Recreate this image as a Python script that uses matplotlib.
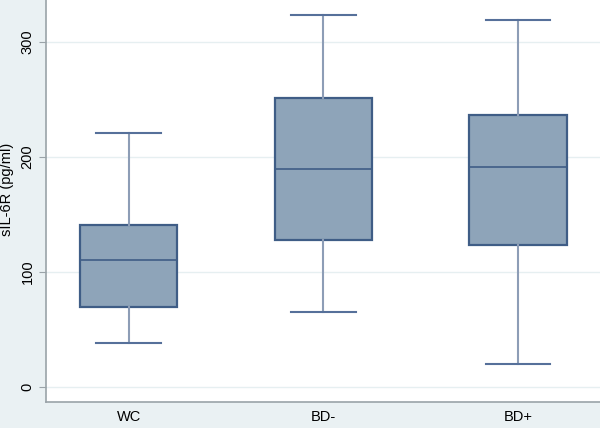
import matplotlib
matplotlib.use("Agg")
import matplotlib.pyplot as plt

# groups and box statistics (pg/ml)
groups = ["WC", "BD-", "BD+"]
lower_whisker = [38, 65, 20]
q1 = [69, 128, 123]
median = [110, 189, 191]
q3 = [141, 251, 236]
upper_whisker = [221, 323, 319]

yticks = [0, 100, 200, 300]

plt.rcParams["font.family"] = ["Liberation Sans", "DejaVu Sans"]

fig = plt.figure(figsize=(6, 4.28), dpi=100)
fig.patch.set_facecolor("#eaf1f3")
ax = fig.add_axes([0.076, 0.061, 0.924, 0.939])
ax.set_facecolor("white")

stats = []
for i, g in enumerate(groups):
    stats.append({
        "label": g,
        "whislo": lower_whisker[i],
        "q1": q1[i],
        "med": median[i],
        "q3": q3[i],
        "whishi": upper_whisker[i],
        "fliers": [],
    })

ax.bxp(stats, positions=[1, 2, 3], widths=0.5, patch_artist=True,
       showfliers=False,
       boxprops=dict(facecolor="#8ea4b9", edgecolor="#3f5d86", linewidth=1.6),
       medianprops=dict(color="#3f5d86", linewidth=1.2),
       whiskerprops=dict(color="#8d9db6", linewidth=1.5),
       capprops=dict(color="#56709a", linewidth=1.5),
       capwidths=0.33)

ax.set_xlim(0.574, 3.42)
ax.set_ylim(-13.2, 336.3)
ax.set_yticks(yticks)
ax.set_yticklabels([str(t) for t in yticks], rotation=90, va="center",
                   fontsize=10.5)
ax.tick_params(axis="y", length=5, color="#9aa3a8", pad=3)
ax.tick_params(axis="x", length=0, labelsize=10.5, pad=6)
ax.set_ylabel("sIL-6R (pg/ml)", fontsize=10.5)
ax.yaxis.set_label_coords(-0.057, 0.53)

ax.grid(axis="y", color="#e6eff1", linewidth=1)
ax.set_axisbelow(True)
for s in ["top", "right"]:
    ax.spines[s].set_visible(False)
for s in ["left", "bottom"]:
    ax.spines[s].set_color("#9aa3a8")
    ax.spines[s].set_linewidth(1.2)

fig.savefig("out.png", dpi=100, facecolor=fig.get_facecolor())
